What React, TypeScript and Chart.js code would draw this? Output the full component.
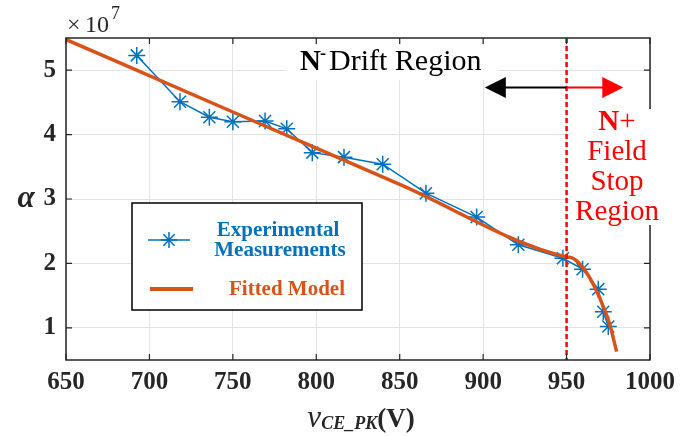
import { useEffect, useRef } from "react";
import { Chart, registerables } from "chart.js";

Chart.register(...registerables);

// ---- data (alpha in units of 1e7) ----
const expV = [692.4, 718.3, 735.9, 750, 769.3, 782.3, 797.6, 816.6, 839.8, 865.7, 896.1, 921.1, 947.8, 959.6, 969, 972, 975];
const expAlpha = [5.23, 4.51, 4.27, 4.2, 4.21, 4.09, 3.72, 3.65, 3.54, 3.09, 2.72, 2.29, 2.08, 1.91, 1.6, 1.25, 1.02];
const fitV = [650, 750, 850, 950, 953, 956, 960, 964, 968, 972, 976, 980];
const fitAlpha = [5.477, 4.351, 3.226, 2.1, 2.09, 2.04, 1.93, 1.77, 1.57, 1.33, 1.04, 0.63];
const xTicks = [650, 700, 750, 800, 850, 900, 950, 1000];
const yTicks = [1, 2, 3, 4, 5];
const xMin = 650, xMax = 1000, yMin = 0.5, yMax = 5.5;
const boundaryV = 950;
const arrowLeftV = 901;
const arrowRightV = 984;
const arrowAlpha = 4.73;

const BLUE = "#0072BD";
const ORANGE = "#D95319";
const RED = "#FF0000";
const AXIS = "#262626";
const GRID = "#e3e3e3";
const SERIF = '"Liberation Serif", "Times New Roman", serif';

function drawStar(ctx: CanvasRenderingContext2D, cx: number, cy: number, r: number) {
  ctx.beginPath();
  for (let k = 0; k < 4; k++) {
    const ang = (k * Math.PI) / 4;
    ctx.moveTo(cx - r * Math.cos(ang), cy - r * Math.sin(ang));
    ctx.lineTo(cx + r * Math.cos(ang), cy + r * Math.sin(ang));
  }
  ctx.stroke();
}

const overlay = {
  id: "overlay",
  afterDatasetsDraw(chart: any) {
    const ctx: CanvasRenderingContext2D = chart.ctx;
    const a = chart.chartArea;
    const x = chart.scales.x;
    const y = chart.scales.y;
    ctx.save();

    // red dashed boundary
    const bx = x.getPixelForValue(boundaryV);
    ctx.strokeStyle = RED;
    ctx.lineWidth = 2.5;
    ctx.setLineDash([5, 3]);
    ctx.beginPath();
    ctx.moveTo(bx, a.top);
    ctx.lineTo(bx, a.bottom);
    ctx.stroke();
    ctx.setLineDash([]);

    // frame
    ctx.strokeStyle = AXIS;
    ctx.lineWidth = 1.5;
    ctx.strokeRect(a.left, a.top, a.right - a.left, a.bottom - a.top);
    ctx.lineWidth = 1.2;
    ctx.beginPath();
    for (const t of xTicks) {
      const px = x.getPixelForValue(t);
      ctx.moveTo(px, a.bottom);
      ctx.lineTo(px, a.bottom - 6);
      ctx.moveTo(px, a.top);
      ctx.lineTo(px, a.top + 6);
    }
    for (const t of yTicks) {
      const py = y.getPixelForValue(t);
      ctx.moveTo(a.left, py);
      ctx.lineTo(a.left + 6, py);
      ctx.moveTo(a.right, py);
      ctx.lineTo(a.right - 6, py);
    }
    ctx.stroke();

    // white boxes behind annotation text
    ctx.fillStyle = "#ffffff";
    ctx.fillRect(287, 45, 210, 35);
    ctx.fillRect(570, 109, 100, 116);

    // x10^7
    ctx.fillStyle = AXIS;
    ctx.textBaseline = "alphabetic";
    ctx.textAlign = "left";
    ctx.font = `24px ${SERIF}`;
    ctx.fillText("\u00d7", 67, 32);
    ctx.fillText("10", 85, 32);
    ctx.font = `18px ${SERIF}`;
    ctx.fillText("7", 111, 19);

    // N- Drift Region
    ctx.fillStyle = "#000";
    ctx.font = `bold 29px ${SERIF}`;
    ctx.fillText("N", 300, 70);
    ctx.font = `bold 18px ${SERIF}`;
    ctx.fillText("-", 320, 59);
    ctx.font = `30px ${SERIF}`;
    ctx.fillText("Drift Region", 329, 70);

    // arrow
    const ay = y.getPixelForValue(arrowAlpha);
    const lx = x.getPixelForValue(arrowLeftV);
    const rx = x.getPixelForValue(arrowRightV);
    ctx.lineWidth = 2;
    ctx.strokeStyle = "#000";
    ctx.beginPath();
    ctx.moveTo(lx + 15, ay);
    ctx.lineTo(bx, ay);
    ctx.stroke();
    ctx.fillStyle = "#000";
    ctx.beginPath();
    ctx.moveTo(lx, ay);
    ctx.lineTo(lx + 21, ay - 10.5);
    ctx.lineTo(lx + 21, ay + 10.5);
    ctx.closePath();
    ctx.fill();
    ctx.strokeStyle = RED;
    ctx.beginPath();
    ctx.moveTo(bx, ay);
    ctx.lineTo(rx - 15, ay);
    ctx.stroke();
    ctx.fillStyle = RED;
    ctx.beginPath();
    ctx.moveTo(rx, ay);
    ctx.lineTo(rx - 21, ay - 10.5);
    ctx.lineTo(rx - 21, ay + 10.5);
    ctx.closePath();
    ctx.fill();

    // N+ Field Stop Region
    ctx.fillStyle = RED;
    const cx = 617;
    ctx.font = `bold 29px ${SERIF}`;
    const wN = ctx.measureText("N").width;
    ctx.font = `29px ${SERIF}`;
    const wP = ctx.measureText("+").width;
    const sx = cx - (wN + wP) / 2;
    ctx.textAlign = "left";
    ctx.font = `bold 29px ${SERIF}`;
    ctx.fillText("N", sx, 130);
    ctx.font = `29px ${SERIF}`;
    ctx.fillText("+", sx + wN, 130);
    ctx.textAlign = "center";
    ctx.fillText("Field", cx, 160);
    ctx.fillText("Stop", cx, 190);
    ctx.fillText("Region", cx, 220);

    // legend
    ctx.fillStyle = "#fff";
    ctx.fillRect(132, 203, 230, 107);
    ctx.strokeStyle = "#000";
    ctx.lineWidth = 1.5;
    ctx.strokeRect(132, 203, 230, 107);
    ctx.strokeStyle = BLUE;
    ctx.lineWidth = 1.5;
    ctx.beginPath();
    ctx.moveTo(148, 240);
    ctx.lineTo(190, 240);
    ctx.stroke();
    drawStar(ctx, 169, 240, 8);
    ctx.strokeStyle = ORANGE;
    ctx.lineWidth = 4;
    ctx.beginPath();
    ctx.moveTo(150, 289);
    ctx.lineTo(193, 289);
    ctx.stroke();
    ctx.font = `bold 21px ${SERIF}`;
    ctx.textAlign = "center";
    ctx.fillStyle = BLUE;
    ctx.fillText("Experimental", 278, 236);
    ctx.fillText("Measurements", 280, 256);
    ctx.fillStyle = ORANGE;
    ctx.fillText("Fitted Model", 287, 295);

    // y title alpha
    ctx.fillStyle = AXIS;
    ctx.font = `italic bold 31px ${SERIF}`;
    ctx.fillText("\u03b1", 26, 207);

    // x title
    ctx.textAlign = "left";
    const parts: [string, string, number][] = [
      ["v", `italic 31px ${SERIF}`, 427],
      ["CE_PK", `italic bold 18px ${SERIF}`, 429],
      ["(V)", `bold 27px ${SERIF}`, 427],
    ];
    let total = 0;
    const widths: number[] = [];
    for (const [t, f] of parts) {
      ctx.font = f;
      const w = ctx.measureText(t).width;
      widths.push(w);
      total += w;
    }
    let tx = 361 - total / 2;
    parts.forEach(([t, f, by], i) => {
      ctx.font = f;
      ctx.fillText(t, tx, by);
      tx += widths[i];
    });

    ctx.restore();
  },
};

export default function App() {
  const ref = useRef<HTMLCanvasElement | null>(null);
  useEffect(() => {
    if (!ref.current) return;
    const chart = new Chart(ref.current, {
      type: "line",
      data: {
        datasets: [
          {
            label: "Fitted Model",
            data: fitV.map((v, i) => ({ x: v, y: fitAlpha[i] })),
            borderColor: ORANGE,
            backgroundColor: ORANGE,
            borderWidth: 3.5,
            pointRadius: 0,
            cubicInterpolationMode: "monotone",
            fill: false,
          },
          {
            label: "Experimental Measurements",
            data: expV.map((v, i) => ({ x: v, y: expAlpha[i] })),
            borderColor: BLUE,
            backgroundColor: BLUE,
            borderWidth: 1.5,
            pointStyle: "star",
            pointRadius: 8.5,
            pointBorderWidth: 1.5,
            pointBorderColor: BLUE,
            tension: 0,
            fill: false,
          },
        ],
      },
      options: {
        responsive: false,
        animation: false,
        layout: { padding: { top: 38, right: 45, left: 0, bottom: 0 } },
        plugins: { legend: { display: false }, tooltip: { enabled: false } },
        scales: {
          x: {
            type: "linear",
            min: xMin,
            max: xMax,
            afterBuildTicks: (s: any) => {
              s.ticks = xTicks.map((v) => ({ value: v }));
            },
            afterFit: (s: any) => {
              s.height = 76;
            },
            grid: { color: GRID, drawTicks: false, lineWidth: 1 },
            border: { display: false },
            ticks: {
              font: { family: SERIF, size: 25, weight: "bold" },
              color: AXIS,
              padding: 8,
              maxRotation: 0,
              callback: (v: any) => String(v),
            },
          },
          y: {
            type: "linear",
            min: yMin,
            max: yMax,
            afterBuildTicks: (s: any) => {
              s.ticks = yTicks.map((v) => ({ value: v }));
            },
            afterFit: (s: any) => {
              s.width = 66;
            },
            grid: { color: GRID, drawTicks: false, lineWidth: 1 },
            border: { display: false },
            ticks: {
              font: { family: SERIF, size: 25, weight: "bold" },
              color: AXIS,
              padding: 10,
              callback: (v: any) => String(v),
            },
          },
        },
      },
      plugins: [overlay],
    } as any);
    return () => chart.destroy();
  }, []);
  return (
    <div style={{ position: "absolute", left: 0, top: 0, width: 695, height: 436 }}>
      <canvas ref={ref} width={695} height={436} />
    </div>
  );
}
